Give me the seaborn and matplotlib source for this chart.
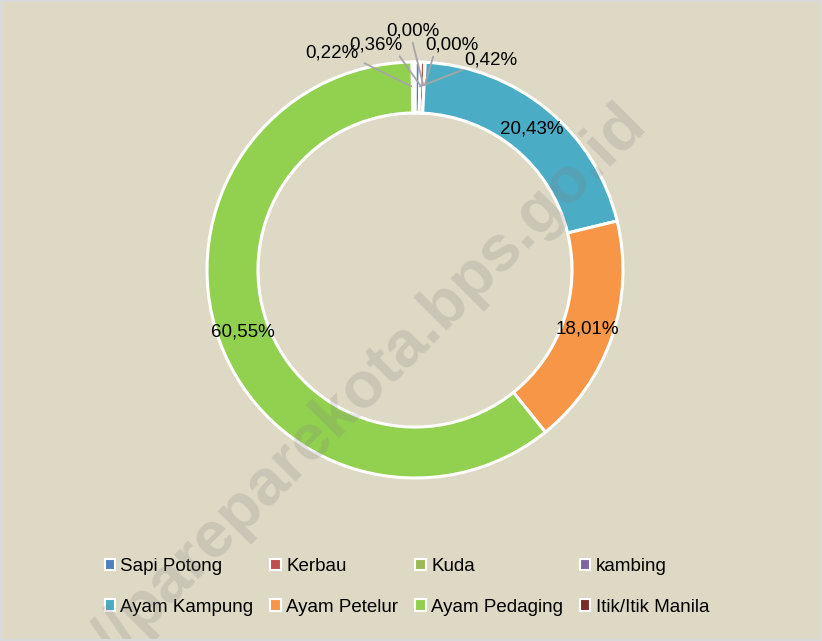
import matplotlib
matplotlib.use("Agg")
import matplotlib.pyplot as plt
from matplotlib.patches import Patch, Rectangle
import seaborn as sns
import numpy as np

categories = ["Sapi Potong", "Kerbau", "Kuda", "kambing",
              "Ayam Kampung", "Ayam Petelur", "Ayam Pedaging", "Itik/Itik Manila"]
values = [0.42, 0.36, 0.00, 0.00, 20.43, 18.01, 60.55, 0.22]
labels = ["0,42%", "0,36%", "0,00%", "0,00%", "20,43%", "18,01%", "60,55%", "0,22%"]
colors = ["#4F81BD", "#C0504D", "#9BBB59", "#8064A2",
          "#4BACC6", "#F79646", "#92D050", "#7B2C2A"]

sns.set_theme(style="white")
plt.rcParams["font.family"] = ["Liberation Sans", "DejaVu Sans"]

BG = "#DDD9C4"
W, H = 822, 641
fig = plt.figure(figsize=(W / 100, H / 100), dpi=100, facecolor=BG)
ax = fig.add_axes([0, 0, 1, 1])
ax.set_facecolor(BG)

cx, cy = 415, H - 270
R = 208
width_frac = 0.245

wedges, _ = ax.pie(values, colors=colors, startangle=90, counterclock=False,
                   radius=R, center=(cx, cy),
                   wedgeprops=dict(width=R * width_frac, edgecolor="white", linewidth=2.2))
ax.set_xlim(0, W)
ax.set_ylim(0, H)
ax.set_aspect("equal", adjustable="box")
ax.axis("off")

FS = 13.5
# labels of big slices at ring middle
rmid = R * (1 - width_frac / 2)
for w, lab, v in zip(wedges, labels, values):
    if v >= 1:
        ang = np.deg2rad((w.theta1 + w.theta2) / 2)
        ax.text(cx + rmid * np.cos(ang), cy + rmid * np.sin(ang), lab,
                ha="center", va="center", fontsize=FS, color="black", zorder=5)

# small slices with leader lines
small_pos = {0: (491, 60), 1: (376, 45), 2: (452, 45), 3: (413, 31), 7: (332, 53)}
anchor_x = {0: 465, 1: 398, 2: 434, 3: 412, 7: 362}
for i, (px, py) in small_pos.items():
    w = wedges[i]
    ang = np.deg2rad((w.theta1 + w.theta2) / 2)
    ex, ey = cx + rmid * np.cos(ang), cy + rmid * np.sin(ang)
    ax.annotate("", xy=(ex, ey), xytext=(anchor_x[i], H - py - 9),
                arrowprops=dict(arrowstyle="-", color="#A6A6A6", lw=1.3), zorder=4)
    ax.text(px, H - py, labels[i], ha="center", va="center", fontsize=FS,
            color="black", zorder=5)

# legend (column-major reorder for row-wise display)
handles = [Patch(facecolor=c, edgecolor="white", linewidth=1.5, label=l)
           for c, l in zip(colors, categories)]
order = [0, 4, 1, 5, 2, 6, 3, 7]
leg = ax.legend([handles[i] for i in order], [categories[i] for i in order],
                ncol=4, loc="center", bbox_to_anchor=(407 / W, 1 - 587 / H),
                frameon=False, fontsize=13.5, handlelength=0.55, handleheight=0.55,
                handletextpad=0.3, columnspacing=0.9, labelspacing=1.25,
                labelcolor="black")

# watermark
wm = ax.text(648, H - 125, "http://pareparekota.bps.go.id", rotation=45,
             rotation_mode="anchor", ha="right", va="baseline",
             fontsize=47, fontweight="bold", color="#7F7F7F", alpha=0.21,
             zorder=10, clip_on=True)

# light border of chart area
fig.patches.append(Rectangle((0, 0), 1, 1, transform=fig.transFigure, fill=False,
                             edgecolor="#D9D9D9", linewidth=3, zorder=20))

fig.savefig("out.png", dpi=100, facecolor=BG)
